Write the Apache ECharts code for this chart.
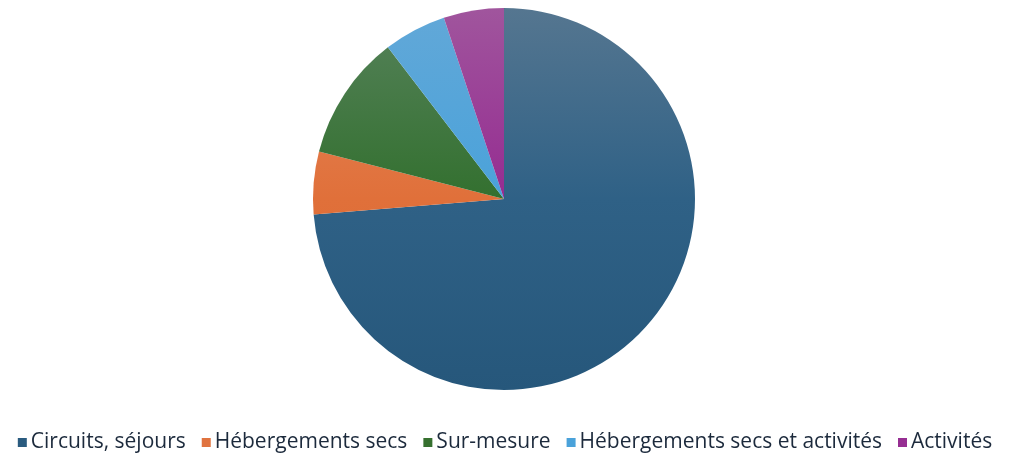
<!DOCTYPE html>
<html>
<head>
<meta charset="utf-8">
<script src="https://cdn.jsdelivr.net/npm/echarts@6/dist/echarts.min.js"></script>
<style>
  html, body { margin: 0; padding: 0; background: #fff; }
  #chart { width: 1010px; height: 459px; }
</style>
</head>
<body>
<div id="chart"></div>
<script>
// catégories et parts (%)
const categories = ['Circuits, séjours', 'Hébergements secs', 'Sur-mesure', 'Hébergements secs et activités', 'Activités'];
const values = [73.7, 5.3, 10.6, 5.3, 5.1];

// couleurs haut / milieu / bas du dégradé
const topColors = ['#557690', '#e5885e', '#56825b', '#62a8d8', '#a0559d'];
const midColors = ['#2f6186', '#e0703a', '#33702f', '#4aa2da', '#952c91'];
const bottomColors = ['#26577b', '#d9672d', '#2f6a2b', '#469fd9', '#93298f'];
const legendColors = ['#2a5b7f', '#e0733f', '#36702f', '#4aa2da', '#962e92'];

const myChart = echarts.init(document.getElementById('chart'));

const option = {
  animation: false,
  legend: {
    top: 427,
    left: 'center',
    itemWidth: 9,
    itemHeight: 9,
    itemGap: 16,
    icon: 'rect',
    textStyle: {
      fontFamily: 'Open Sans',
      fontSize: 21,
      color: '#1c2a3c',
      padding: [0, 0, 0, -1],
    },
    data: categories.map((name, i) => ({ name, itemStyle: { color: legendColors[i] } })),
  },
  series: [
    {
      type: 'pie',
      center: [504, 199],
      radius: 191,
      startAngle: 90,
      clockwise: true,
      label: { show: false },
      labelLine: { show: false },
      emphasis: { disabled: true },
      data: categories.map((name, i) => ({
        name,
        value: values[i],
        itemStyle: {
          color: new echarts.graphic.LinearGradient(0, 8, 0, 390, [
            { offset: 0, color: topColors[i] },
            { offset: 0.5, color: midColors[i] },
            { offset: 1, color: bottomColors[i] },
          ], true),
        },
      })),
    },
  ],
};

myChart.setOption(option);
</script>
</body>
</html>
